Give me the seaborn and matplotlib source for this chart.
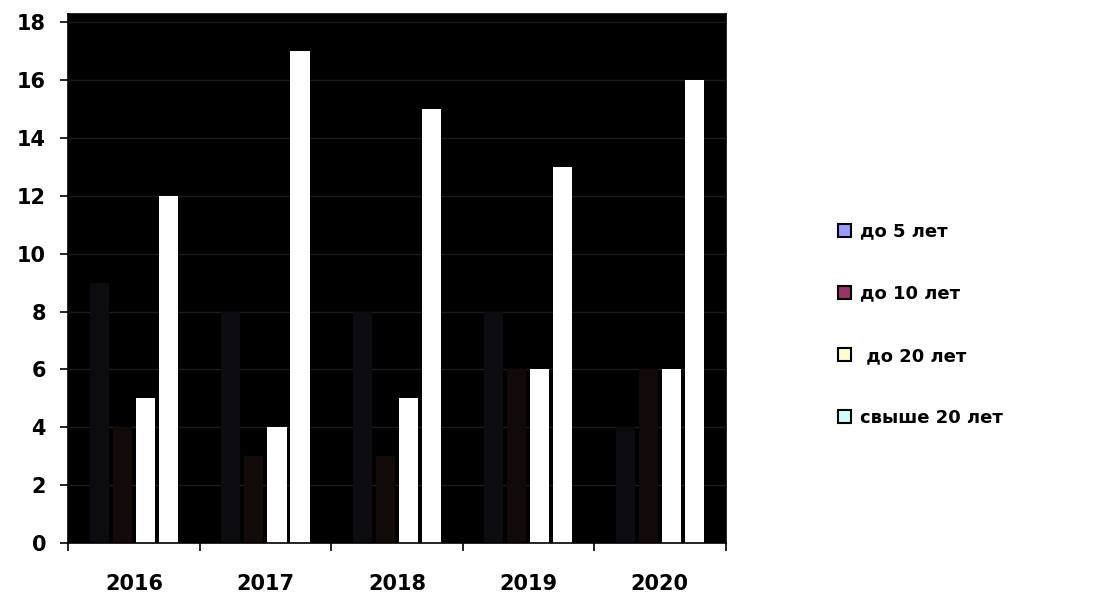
import pandas as pd
import seaborn as sns
import matplotlib.pyplot as plt
from matplotlib.patches import Patch

# Values
years = ["2016", "2017", "2018", "2019", "2020"]
groups = ["до 5 лет", "до 10 лет", " до 20 лет", "свыше 20 лет"]
upto5 = [9, 8, 8, 8, 4]
upto10 = [4, 3, 3, 6, 6]
upto20 = [5, 4, 5, 6, 6]
over20 = [12, 17, 15, 13, 16]

# bars render almost black / white in the picture, the legend keeps the palette
bar_colors = ["#0b0b10", "#120909", "#ffffff", "#ffffff"]
legend_colors = ["#9999ff", "#993366", "#ffffcc", "#ccffff"]

df = pd.DataFrame({
    "year": years * 4,
    "group": [g for g in groups for _ in years],
    "value": upto5 + upto10 + upto20 + over20,
})

sns.set_style("white")
plt.rcParams["font.family"] = ["DejaVu Sans"]
plt.rcParams["font.weight"] = "bold"
plt.rcParams["text.color"] = "black"
plt.rcParams["xtick.color"] = "black"
plt.rcParams["ytick.color"] = "black"

fig = plt.figure(figsize=(11.01, 5.96), dpi=100)
ax = fig.add_axes([0.062, 0.089, 0.597, 0.888])
ax.set_facecolor("black")

sns.barplot(
    data=df, x="year", y="value", hue="group", hue_order=groups,
    palette=bar_colors, width=0.7, gap=0.17, ax=ax, legend=False,
    saturation=1, edgecolor="none", linewidth=0,
)

ax.set_ylim(0, 18.3)
ax.set_xlim(-0.5, 4.5)
ax.set_yticks(range(0, 19, 2))
ax.yaxis.grid(True, color="#1c1c1c", linewidth=1)
ax.set_axisbelow(True)
ax.set_xlabel("")
ax.set_ylabel("")

# x ticks sit on the category boundaries
ax.set_xticks([x - 0.5 for x in range(6)], minor=True)
ax.tick_params(axis="x", which="major", bottom=True, length=0, pad=22, labelsize=15,
               labelcolor="black")
ax.tick_params(axis="x", which="minor", bottom=True, length=6, width=1.2,
               color="black", direction="out")
ax.tick_params(axis="y", left=True, length=6, width=1.2, color="black", direction="out",
               labelsize=15, pad=10, labelcolor="black")
for lab in ax.get_xticklabels() + ax.get_yticklabels():
    lab.set_fontweight("bold")

for s in ax.spines.values():
    s.set_color("black")
    s.set_linewidth(1.2)

handles = [Patch(facecolor=c, edgecolor="black", linewidth=1.5) for c in legend_colors]
fig.legend(
    handles, groups, loc="center left", bbox_to_anchor=(0.761, 0.455),
    frameon=False, handlelength=0.75, handleheight=0.75,
    handletextpad=0.45, labelspacing=2.45, borderpad=0, borderaxespad=0,
    prop={"weight": "bold", "size": 13}, labelcolor="black",
)

plt.savefig("out.png", dpi=100)
